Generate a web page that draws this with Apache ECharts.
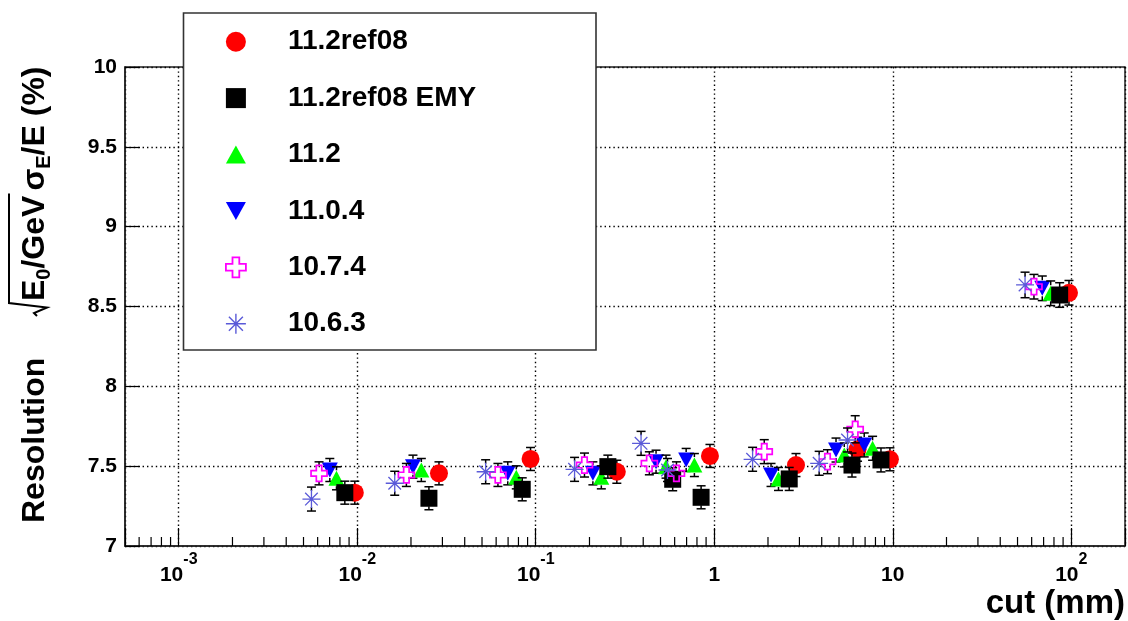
<!DOCTYPE html>
<html><head><meta charset="utf-8">
<script src="https://cdn.jsdelivr.net/npm/echarts@6/dist/echarts.min.js"></script>
<style>html,body{margin:0;padding:0;background:#fff}#c{width:1128px;height:621px}</style>
</head><body><div id="c"></div>
<script>
// ---------------- data ----------------
const seriesNames = ['11.2ref08', '11.2ref08 EMY', '11.2', '11.0.4', '10.7.4', '10.6.3'];

const cut_ref08 = [0.00969, 0.0287, 0.0935, 0.2846, 0.946, 2.87, 6.35, 9.64, 97.1];
const res_ref08 = [7.334, 7.455, 7.545, 7.465, 7.564, 7.507, 7.606, 7.543, 8.586];
const err_ref08 = [0.072, 0.072, 0.072, 0.072, 0.072, 0.072, 0.075, 0.072, 0.077];

const cut_emy = [0.00852, 0.02521, 0.0840, 0.2535, 0.585, 0.844, 2.63, 5.91, 8.59, 86.1];
const res_emy = [7.334, 7.299, 7.355, 7.497, 7.418, 7.305, 7.420, 7.507, 7.539, 8.572];
const err_emy = [0.072, 0.072, 0.072, 0.072, 0.072, 0.072, 0.072, 0.075, 0.075, 0.077];

const cut_112 = [0.00765, 0.02286, 0.0778, 0.233, 0.537, 0.774, 2.29, 5.35, 7.71, 76.7];
const res_112 = [7.424, 7.476, 7.430, 7.430, 7.497, 7.507, 7.420, 7.570, 7.612, 8.583];
const err_112 = [0.072, 0.072, 0.072, 0.072, 0.072, 0.072, 0.072, 0.075, 0.075, 0.077];

const cut_1104 = [0.00702, 0.02052, 0.0697, 0.209, 0.472, 0.696, 2.08, 4.81, 6.92, 68.8];
const res_1104 = [7.476, 7.497, 7.455, 7.455, 7.528, 7.539, 7.445, 7.601, 7.633, 8.614];
const err_1104 = [0.072, 0.072, 0.072, 0.072, 0.072, 0.072, 0.072, 0.075, 0.075, 0.077];

const cut_1074 = [0.00611, 0.01885, 0.0614, 0.1875, 0.433, 0.614, 1.906, 4.31, 6.16, 61.8];
const res_1074 = [7.455, 7.445, 7.445, 7.507, 7.518, 7.455, 7.591, 7.528, 7.731, 8.624];
const err_1074 = [0.072, 0.072, 0.072, 0.075, 0.072, 0.072, 0.075, 0.075, 0.085, 0.077];

const cut_1063 = [0.00554, 0.01622, 0.0524, 0.165, 0.389, 0.547, 1.64, 3.87, 5.58, 55.1];
const res_1063 = [7.294, 7.393, 7.465, 7.480, 7.643, 7.476, 7.543, 7.518, 7.664, 8.635];
const err_1063 = [0.075, 0.075, 0.075, 0.075, 0.075, 0.072, 0.075, 0.075, 0.075, 0.08];

const xMajorTicks = [0.001, 0.01, 0.1, 1, 10, 100];
const xTickLabels = [['10', '-3'], ['10', '-2'], ['10', '-1'], ['1', ''], ['10', ''], ['10', '2']];
const minorMultipliers = [2, 3, 4, 5, 6, 7, 8, 9];
const minorDecades = [0.0001, 0.001, 0.01, 0.1, 1, 10, 100];
const X_MIN = 5e-4, X_MAX = 200, Y_MIN = 7, Y_MAX = 10, Y_STEP = 0.5;

// ---------------- helpers ----------------
const F = '"Liberation Sans", Arial, Helvetica, sans-serif';
const zip = (xs, ys, es) => xs.map((x, i) => [x, ys[i], es[i]]);

const minorTicks = [];
minorDecades.forEach(d => minorMultipliers.forEach(m => {
  const v = m * d;
  if (v > X_MIN * 1.0001 && v < X_MAX * 0.9999) minorTicks.push([v, Y_MIN]);
}));

function errRender(half) {
  return function (params, api) {
    const x = api.value(0), y = api.value(1), e = api.value(2);
    const c = api.coord([x, y]);
    const t = api.coord([x, y + e]);
    const b = api.coord([x, y - e]);
    const st = { stroke: '#000', lineWidth: 1.5 };
    const cap = 4.5;
    const ch = [];
    if (c[1] - half > t[1]) ch.push({ type: 'line', shape: { x1: c[0], y1: t[1], x2: c[0], y2: c[1] - half }, style: st });
    if (c[1] + half < b[1]) ch.push({ type: 'line', shape: { x1: c[0], y1: c[1] + half, x2: c[0], y2: b[1] }, style: st });
    ch.push({ type: 'line', shape: { x1: c[0] - cap, y1: t[1], x2: c[0] + cap, y2: t[1] }, style: st });
    ch.push({ type: 'line', shape: { x1: c[0] - cap, y1: b[1], x2: c[0] + cap, y2: b[1] }, style: st });
    return { type: 'group', children: ch };
  };
}

// drawing order (back to front)
const defs = [
  { name: '11.2ref08', data: zip(cut_ref08, res_ref08, err_ref08), symbol: 'circle', size: 18,
    itemStyle: { color: '#ff0000', opacity: 1 } },
  { name: '11.0.4', data: zip(cut_1104, res_1104, err_1104), symbol: 'path://M0,0 L10,0 L5,9 Z', size: [16, 15],
    itemStyle: { color: '#0000ff', opacity: 1 } },
  { name: '11.2', data: zip(cut_112, res_112, err_112), symbol: 'path://M5,0 L10,9 L0,9 Z', size: [16, 15],
    itemStyle: { color: '#00ff00', opacity: 1 } },
  { name: '11.2ref08 EMY', data: zip(cut_emy, res_emy, err_emy), symbol: 'rect', size: 17,
    itemStyle: { color: '#000000', opacity: 1 } },
  { name: '10.7.4', data: zip(cut_1074, res_1074, err_1074),
    symbol: 'path://M3.3,0 L6.7,0 L6.7,3.3 L10,3.3 L10,6.7 L6.7,6.7 L6.7,10 L3.3,10 L3.3,6.7 L0,6.7 L0,3.3 L3.3,3.3 Z', size: 16,
    itemStyle: { color: 'rgba(0,0,0,0)', borderColor: '#ff00ff', borderWidth: 1.7, opacity: 1 } },
  { name: '10.6.3', data: zip(cut_1063, res_1063, err_1063),
    symbol: 'path://M5,0 L5,10 M0,5 L10,5 M1.5,1.5 L8.5,8.5 M8.5,1.5 L1.5,8.5', size: 18,
    itemStyle: { color: '#5a5ad8', borderColor: '#5a5ad8', borderWidth: 1.3, opacity: 1 } }
];

const series = [];
series.push({
  type: 'custom', name: 'minorTicks', data: minorTicks, z: 2, silent: true, clip: false,
  renderItem: function (params, api) {
    const p = api.coord([api.value(0), Y_MIN]);
    return { type: 'line', shape: { x1: p[0], y1: p[1], x2: p[0], y2: p[1] - 9 }, style: { stroke: '#000', lineWidth: 1.2 } };
  }
});
defs.forEach((d, i) => {
  series.push({ type: 'custom', name: 'err_' + d.name, data: d.data, z: 3 + 2 * i, silent: true, clip: false,
    renderItem: errRender(8) });
  series.push({ type: 'scatter', name: d.name, data: d.data.map(p => [p[0], p[1]]), z: 4 + 2 * i,
    symbol: d.symbol, symbolSize: d.size, itemStyle: d.itemStyle, silent: true });
});

// ---------------- y-axis title (rotated, with radical) ----------------
const mctx = document.createElement('canvas').getContext('2d');
function tw(t, s) { mctx.font = 'bold ' + s + 'px ' + F; return mctx.measureText(t).width; }
const BIG = 32, SUB = 20, SUBDY = 9;
const yTitle = [];
let lx = 0;
function addT(t, s, dy) {
  yTitle.push({ type: 'text', x: lx, y: dy, style: { text: t, fontSize: s, fontWeight: 'bold', fontFamily: F,
    fill: '#000', align: 'left', verticalAlign: 'middle' } });
  lx += tw(t, s);
}
addT('Resolution', BIG, 0);
lx = 222;
addT('E', BIG, 0);
addT('0', SUB, SUBDY);
addT('/GeV', BIG, 0);
const overEnd = lx + 2;
yTitle.push({ type: 'polyline', shape: { points: [[207, 2], [210, -1], [215.5, 12], [220, -26], [overEnd, -26]] },
  style: { stroke: '#000', lineWidth: 2, fill: null } });
lx = overEnd + 3;
addT('σ', BIG, 0);
addT('E', SUB, SUBDY);
addT('/E (%)', BIG, 0);

// ---------------- chart ----------------
const chart = echarts.init(document.getElementById('c'), null, { renderer: 'canvas' });
chart.setOption({
  animation: false,
  backgroundColor: '#fff',
  grid: { left: 125, right: 2, top: 67, bottom: 75, show: true, borderColor: '#222', borderWidth: 1.5, backgroundColor: 'transparent' },
  xAxis: {
    type: 'log', logBase: 10, min: X_MIN, max: X_MAX,
    axisLine: { show: true, lineStyle: { color: '#222', width: 1.5 } },
    axisTick: { show: true, inside: true, length: 18, lineStyle: { color: '#000', width: 1.2 } },
    minorTick: { show: false },
    splitLine: { show: true, lineStyle: { color: '#000', width: 1.4, type: [1.4, 3] } },
    axisLabel: {
      margin: 6,
      formatter: function (v) {
        const i = xMajorTicks.findIndex(t => Math.abs(v / t - 1) < 1e-6);
        if (i < 0) return '';
        const [b, s] = xTickLabels[i];
        return s ? '{b|' + b + '}{s|' + s + '}' : '{b|' + b + '}';
      },
      rich: {
        b: { fontSize: 21, fontWeight: 'bold', fontFamily: F, color: '#000', lineHeight: 46, verticalAlign: 'middle' },
        s: { fontSize: 16, fontWeight: 'bold', fontFamily: F, color: '#000', lineHeight: 14, verticalAlign: 'top' }
      }
    }
  },
  yAxis: {
    type: 'value', min: Y_MIN, max: Y_MAX, interval: Y_STEP,
    axisLine: { show: true, lineStyle: { color: '#222', width: 1.5 } },
    axisTick: { show: true, inside: true, length: 15, lineStyle: { color: '#000', width: 1.2 } },
    splitLine: { show: true, lineStyle: { color: '#000', width: 1.4, type: [1.4, 3] } },
    axisLabel: { margin: 8, fontSize: 21, fontWeight: 'bold', fontFamily: F, color: '#000' }
  },
  legend: {
    orient: 'vertical', left: 225, top: 27.7, padding: 0, itemGap: 28.4, itemWidth: 20, itemHeight: 20,
    selectedMode: false, z: 40,
    data: [
      { name: '11.2ref08' },
      { name: '11.2ref08 EMY' },
      { name: '11.2' },
      { name: '11.0.4' },
      { name: '10.7.4', itemStyle: { color: 'rgba(0,0,0,0)', borderColor: '#ff00ff', borderWidth: 1.8 } },
      { name: '10.6.3', itemStyle: { color: '#5a5ad8', borderColor: '#5a5ad8', borderWidth: 1.4 } }
    ],
    textStyle: { fontFamily: F, fontWeight: 'bold', fontSize: 28, color: '#000', padding: [0, 0, 0, 37] }
  },
  graphic: [
    { type: 'rect', z: 39, shape: { x: 183.5, y: 13, width: 412.5, height: 337 },
      style: { fill: '#fff', stroke: '#333', lineWidth: 1.6 } },
    { type: 'group', x: 35, y: 523, rotation: Math.PI / 2, children: yTitle },
    { type: 'text', x: 1125, y: 604, style: { text: 'cut (mm)', fontSize: 33, fontWeight: 'bold', fontFamily: F,
      fill: '#000', align: 'right', verticalAlign: 'middle' } }
  ],
  series: series
});
</script>
</body></html>
